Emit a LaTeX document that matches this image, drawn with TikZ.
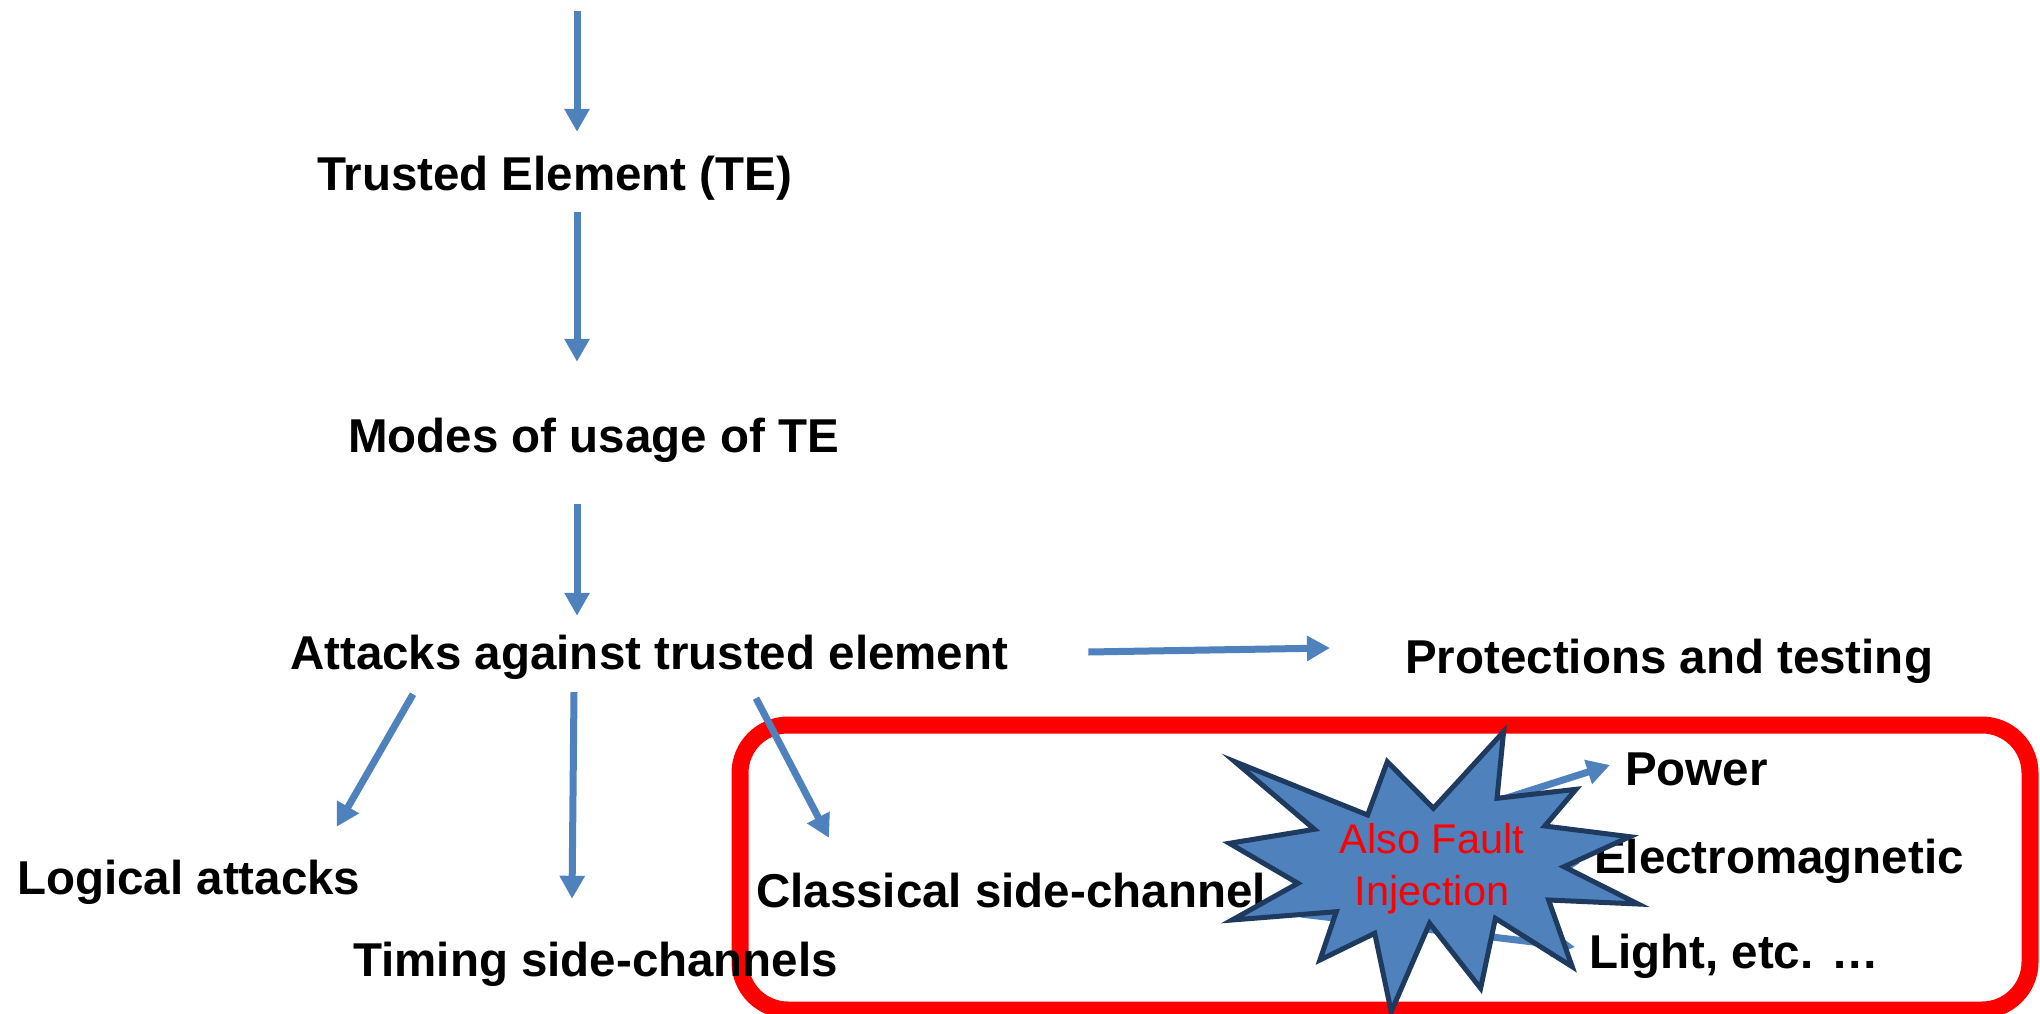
\documentclass[tikz,border=0pt]{standalone}
\usepackage{fontspec}
\setmainfont{Liberation Sans}
\usetikzlibrary{arrows.meta,calc}
\definecolor{arrowblue}{HTML}{4F81BD}
\definecolor{starfill}{HTML}{4F81BD}
\definecolor{starline}{HTML}{1F3A5F}
\definecolor{boxred}{HTML}{FF0000}
\begin{document}
\begin{tikzpicture}[x=1pt,y=-1pt,
  lbl/.style={font={\fontsize{47.5pt}{57pt}\selectfont\bfseries}, inner sep=0pt,
              text height=34pt, text depth=10pt, anchor=base west},
  redtxt/.style={font={\fontsize{41.5pt}{52pt}\selectfont}, text=boxred, inner sep=0pt, anchor=base},
  arr/.style={draw=arrowblue, line width=7pt, -{Triangle[width=24pt,length=23pt]}},
  groupbox/.style={draw=boxred, line width=17pt, rounded corners=48pt, inner sep=0pt},
  starshape/.style={fill=starfill, draw=starline, line width=5pt, line join=miter}
]
\useasboundingbox (0,0) rectangle (2040,1014);
\fill[white] (0,0) rectangle (2040,1014);

% grouping box
\node[groupbox, minimum width=1290pt, minimum height=285pt] (group) at (1385,867.5) {};

% labels
\node[lbl] (te)      at (317,190)  {Trusted Element (TE)};
\node[lbl] (modes)   at (348,452)  {Modes of usage of TE};
\node[lbl] (attacks) at (290,669)  {Attacks against trusted element};
\node[lbl] (prot)    at (1405,673) {Protections and testing};
\node[lbl] (logical) at (17,894)   {Logical attacks};
\node[lbl] (timing)  at (353,976)  {Timing side-channels};
\node[lbl] (cls)     at (756,907)  {Classical side-channel};
\node[lbl] (power)   at (1625,785) {Power};
\node[lbl] (em)      at (1594,873) {Electromagnetic};
\node[lbl] (light)   at (1589,968) {Light, etc. …};

% main chain
\coordinate (topstart) at (577,11);
\draw[arr, shorten >=24pt] (topstart) -- (topstart |- te.north);
\draw[arr, shorten <=12pt, shorten >=56pt] (topstart |- te.south) -- (topstart |- modes.north);
\draw[arr, shorten <=42pt, shorten >=19pt] (topstart |- modes.south) -- (topstart |- attacks.north);

% attacks branches
\draw[arr] ([xshift=80pt,yshift=5pt]attacks.east) -- ([xshift=-75pt,yshift=13pt]prot.west);
\draw[arr] ($(attacks.south west)+(123,15)$) -- ($(logical.north east)+(-24,-33)$);
\draw[arr] ($(attacks.south west)+(284,13)$) -- ($(timing.north west)+(219,-43)$);
\draw[arr] ($(attacks.south west)+(466,19)$) -- ($(cls.north west)+(73,-35)$);

% side-channel kinds (mostly hidden behind the star)
\coordinate (ps) at ($(cls.east)+(65,-41)$);
\coordinate (es) at ($(cls.east)+(65,-15)$);
\coordinate (ls) at ($(cls.east)+(35,19)$);
\draw[arr] (ps) -- ($(power.west)+(-15,-8)$);
\draw[arr] (es) -- ($(em.west)+(-14,2)$);
\draw[arr] (ls) -- ($(light.west)+(-14,-9)$);

% explosion star
\draw[starshape] (1503.6,731.7) -- (1497.0,798.3) -- (1576.0,789.3) -- (1544.8,826.0)
  -- (1629.8,836.7) -- (1564.0,866.7) -- (1638.0,904.0) -- (1548.6,900.0)
  -- (1572.2,966.7) -- (1495.4,918.3) -- (1480.6,988.3) -- (1429.6,923.3)
  -- (1391.2,1011.7) -- (1374.7,933.3) -- (1319.9,960.0) -- (1336.3,911.7)
  -- (1232.1,920.0) -- (1297.9,883.3) -- (1229.4,843.3) -- (1314.4,829.3)
  -- (1234.9,761.7) -- (1367.6,815.0) -- (1387.3,761.7) -- (1433.4,808.3) -- cycle;
\node[redtxt] (fault1) at (1432,853) {Also Fault};
\node[redtxt] (fault2) at (1432,905) {Injection};
\end{tikzpicture}
\end{document}
